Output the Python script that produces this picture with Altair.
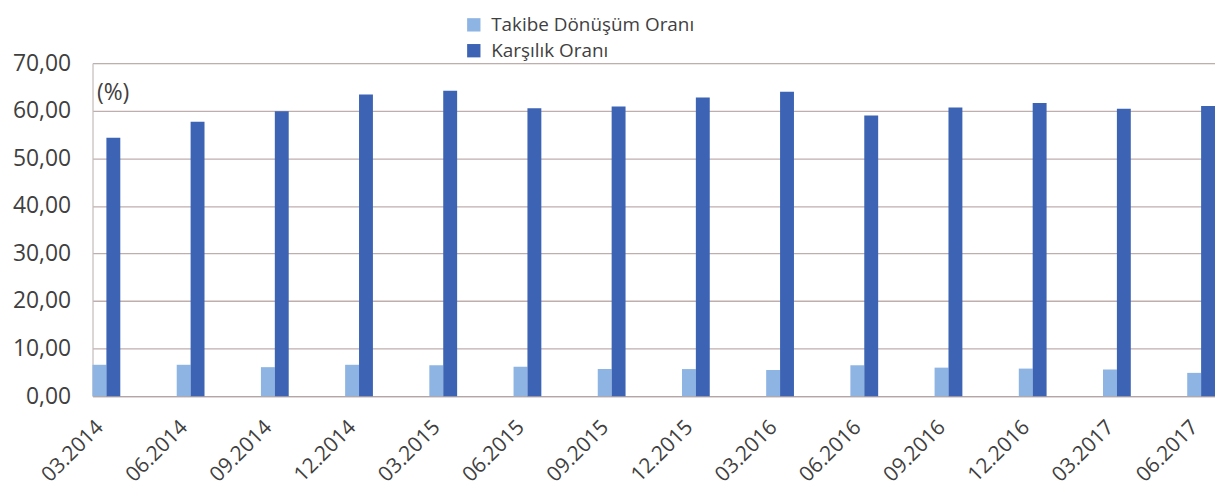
import altair as alt
import pandas as pd

periods = ["03.2014", "06.2014", "09.2014", "12.2014", "03.2015", "06.2015", "09.2015",
           "12.2015", "03.2016", "06.2016", "09.2016", "12.2016", "03.2017", "06.2017"]
takibe = [6.6, 6.6, 6.1, 6.6, 6.5, 6.2, 5.7, 5.7, 5.5, 6.5, 6.0, 5.8, 5.6, 4.9]
karsilik = [54.3, 57.7, 59.9, 63.4, 64.2, 60.5, 60.9, 62.8, 64.0, 59.0, 60.7, 61.6, 60.4, 61.0]
series = ["Takibe Dönüşüm Oranı", "Karşılık Oranı"]
colors = ["#8db4e3", "#3c63b4"]

rows = []
for i, p in enumerate(periods):
    rows.append({"period": p, "series": series[0], "value": takibe[i], "order": 0})
    rows.append({"period": p, "series": series[1], "value": karsilik[i], "order": 1})
df = pd.DataFrame(rows)

FONT = "Open Sans"
TXT = "#3f3f3f"

chart = alt.Chart(df).mark_bar().encode(
    x=alt.X("period:N", sort=periods,
            scale=alt.Scale(paddingInner=0.67, paddingOuter=0),
            axis=alt.Axis(title=None, labelAngle=-45, labelAlign="right", labelBaseline="top",
                          labelFontSize=21, labelFont=FONT, labelColor=TXT, labelPadding=20,
                          ticks=False, domainColor="#b0a4a4", labelOffset=-14)),
    xOffset=alt.XOffset("series:N", sort=series),
    y=alt.Y("value:Q", scale=alt.Scale(domain=[0, 70], nice=False),
            axis=alt.Axis(title="(%)", titleAngle=0, titleX=4, titleY=42, titleAlign="left",
                          titleFont=FONT, titleFontSize=23, titleFontWeight="normal", titleColor=TXT,
                          values=[0, 10, 20, 30, 40, 50, 60, 70],
                          labelExpr="replace(format(datum.value, '.2f'), '.', ',')",
                          labelFontSize=23, labelFont=FONT, labelColor=TXT, labelPadding=22,
                          ticks=False, gridColor="#bfaeae", gridWidth=1.3,
                          domainColor="#c8c0c0")),
    color=alt.Color("series:N", sort=series,
                    scale=alt.Scale(domain=series, range=colors),
                    legend=alt.Legend(title=None, orient="none", legendX=374, legendY=-48,
                                      symbolType="square", symbolSize=180, symbolStrokeWidth=0,
                                      labelFont=FONT, labelFontSize=19, labelColor=TXT,
                                      labelLimit=400, rowPadding=6, labelOffset=8)),
).properties(
    width=1129, height=335,
    padding={"left": 85, "top": 54, "right": 0, "bottom": 110},
    autosize=alt.AutoSizeParams(type="none"),
).configure_view(stroke=None).configure(background="white")

chart.save("out.html", embed_options={"renderer": "svg", "actions": False})
